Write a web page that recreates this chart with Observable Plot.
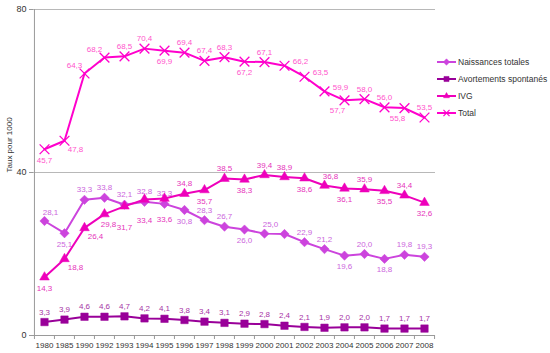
<!DOCTYPE html>
<html><head><meta charset="utf-8">
<script src="https://cdn.jsdelivr.net/npm/d3@7"></script>
<script src="https://cdn.jsdelivr.net/npm/@observablehq/plot@0.6"></script>
<style>html,body{margin:0;padding:0;background:#fff;} #chart{width:550px;height:353px;}</style>
</head><body><div id="chart"></div>
<script>
const years = ["1980","1985","1990","1992","1993","1994","1995","1996","1997","1998","1999","2000","2001","2002","2003","2004","2005","2006","2007","2008"];
const naissances = [28.1,25.1,33.3,33.8,32.1,32.8,32.3,30.8,28.3,26.7,26.0,25.0,24.9,22.9,21.2,19.6,20.0,18.8,19.8,19.3];
const avortements = [3.3,3.9,4.6,4.6,4.7,4.2,4.1,3.8,3.4,3.1,2.9,2.8,2.4,2.1,1.9,2.0,2.0,1.7,1.7,1.7];
const ivg = [14.3,18.8,26.4,29.8,31.7,33.4,33.6,34.8,35.7,38.5,38.3,39.4,38.9,38.6,36.8,36.1,35.9,35.5,34.4,32.6];
const total = [45.7,47.8,64.3,68.2,68.5,70.4,69.9,69.4,67.4,68.3,67.2,67.1,66.2,63.5,59.9,57.7,58.0,56.0,55.8,53.5];
const seriesNames = ["Naissances totales","Avortements spontanés","IVG","Total"];
const yTicks = [0,40,80];
const yTitle = "Taux pour 1000";

// label placement codes (a=above, b=below, r=right, ...; n=no label)
const naissancesLabelPos = ["ar","b","a","a","a","a","a","b","a","a","b","ar","n","a","a","b","a","b","a","a"];
const avortementsLabelPos = ["a","a","a","a","a","a","a","a","a","a","a","a","a","a","a","a","a","a","a","a"];
const ivgLabelPos = ["b","br","br","bs","bb","bb","bb","a","b","a","b","a","a","b","ar","b","a","b","a","b"];
const totalLabelPos = ["b","br","al","al","a","a","b","a","a","a","b","a","r","r","r","bl","a","a","bl","a"];

const offsets = {a:[0,-10], b:[0,11], r:[16,-4], l:[-16,-4], ar:[6,-9], al:[-10,-8], br:[11,9], bs:[4,10], bl:[-7,10], bb:[0,21], aa:[0,-20]};

const styles = [
  {name: seriesNames[0], values: naissances, pos: naissancesLabelPos, color: "#CC44DD", label: "#CC66DD", symbol: "diamond2", r: 4.2, fill: true},
  {name: seriesNames[1], values: avortements, pos: avortementsLabelPos, color: "#990099", label: "#A633A6", symbol: "square", r: 4.2, fill: true},
  {name: seriesNames[2], values: ivg, pos: ivgLabelPos, color: "#EE00BB", label: "#E633BB", symbol: "triangle2", r: 4.6, fill: true},
  {name: seriesNames[3], values: total, pos: totalLabelPos, color: "#FF00CC", label: "#FF55CC", symbol: "times", r: 4.5, fill: false}
];

const fmt = v => v.toFixed(1).replace(".", ",");

const marks = [
  Plot.ruleY(yTicks.filter(t => t > 0), {stroke: "#b8b8b8", strokeWidth: 1}),
  Plot.ruleX([years[0]], {stroke: "#9a9a9a", dx: -10.05, y1: 0, y2: 80}),
  Plot.ruleY([0], {stroke: "#9a9a9a"}),
  Plot.axisY({ticks: yTicks, tickSize: 4, tickPadding: 3, fontSize: 9, stroke: "#9a9a9a", color: "#333", label: null}),
  Plot.ruleX(years, {x: d => d, y1: 0, y2: 0, insetTop: 4, dx: -10.05, stroke: "#9a9a9a"}),
  Plot.ruleX([years[years.length-1]], {x: d => d, y1: 0, y2: 0, insetTop: 4, dx: 10.05, stroke: "#9a9a9a"}),
  Plot.axisX({tickSize: 0, tickPadding: 7, fontSize: 8, color: "#333", label: null}),
  Plot.text([yTitle], {frameAnchor: "left", dx: -24, rotate: -90, fontSize: 8, fill: "#333"})
];

for (const s of styles) {
  const rows = years.map((y, i) => ({year: y, v: s.values[i], pos: s.pos[i]}));
  marks.push(Plot.line(rows, {x: "year", y: "v", stroke: s.color, strokeWidth: 2}));
  marks.push(Plot.dot(rows, {x: "year", y: "v", symbol: () => s.symbol, r: s.r,
    fill: s.fill ? s.color : "none", stroke: s.color, strokeWidth: s.fill ? 0.5 : 1.3}));
  for (const code of Object.keys(offsets)) {
    const sub = rows.filter(d => d.pos === code);
    if (!sub.length) continue;
    marks.push(Plot.text(sub, {x: "year", y: "v", text: d => fmt(d.v), dx: offsets[code][0], dy: offsets[code][1],
      fill: s.label, fontSize: 8}));
  }
}

const chart = Plot.plot({
  width: 550, height: 353,
  marginLeft: 33, marginRight: 115, marginTop: 9, marginBottom: 18,
  style: {fontFamily: "Liberation Sans, Arial, sans-serif", background: "#fff"},
  x: {type: "point", domain: years, padding: 0.5, label: null, axis: null},
  y: {domain: [0, 80], label: null, axis: null},
  marks
});

// legend
const svg = d3.select(chart);
const lg = svg.append("g").attr("font-family", "Liberation Sans, Arial, sans-serif").attr("font-size", 8.5).attr("text-anchor", "start");
const x0 = 550 - 115 + 2;
styles.forEach((s, i) => {
  const y = 62 + i * 17;
  const g = lg.append("g").attr("transform", `translate(${x0},${y})`);
  g.append("line").attr("x1", 0).attr("x2", 19).attr("stroke", s.color).attr("stroke-width", 2);
  const sym = {diamond2: d3.symbolDiamond2, square: d3.symbolSquare, triangle2: d3.symbolTriangle2, times: d3.symbolTimes}[s.symbol];
  g.append("path").attr("transform", "translate(9.5,0)")
    .attr("d", d3.symbol(sym, 26)())
    .attr("fill", s.fill ? s.color : "none").attr("stroke", s.color).attr("stroke-width", s.fill ? 0.5 : 1.2);
  g.append("text").attr("x", 21).attr("dy", "0.35em").attr("text-anchor", "start").attr("fill", "#333").text(s.name);
});

document.getElementById("chart").appendChild(chart);
</script>
</body></html>
